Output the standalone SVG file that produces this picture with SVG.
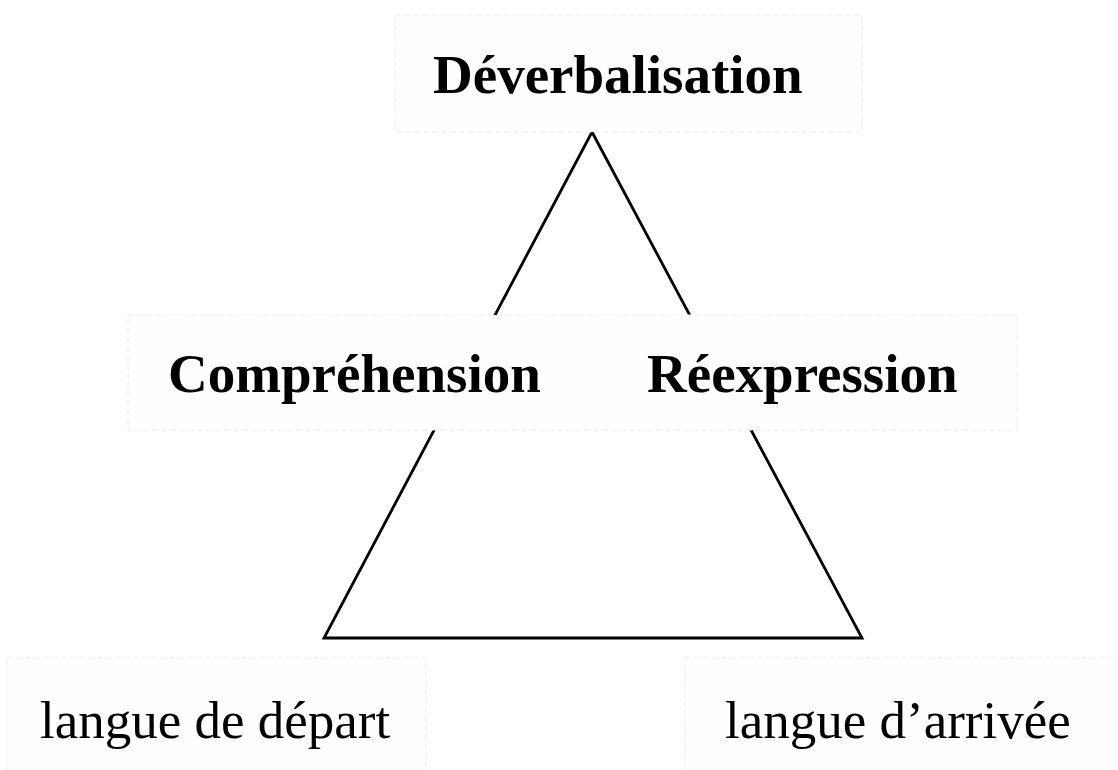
<svg xmlns="http://www.w3.org/2000/svg" width="1118" height="770" viewBox="0 0 1118 770">
<style>
.box{fill:#fefefe;stroke:#ececec;stroke-width:1;stroke-dasharray:6 3}
.bold{font-family:"Liberation Serif","Times New Roman",serif;font-weight:bold;font-size:55px;fill:#000}
.reg{font-family:"Liberation Serif","Times New Roman",serif;font-size:53px;fill:#000}
.edge{fill:none;stroke:#000;stroke-width:2.8;stroke-linejoin:miter}
</style>
<rect width="1118" height="770" fill="#ffffff"/>
<g id="connectors">
<polygon class="edge" points="592,132 862,638 324,638"/>
</g>
<g id="node-deverbalisation">
<rect class="box" x="395" y="15" width="467" height="117"/>
<text class="bold" x="433" y="93">Déverbalisation</text>
</g>
<g id="node-middle">
<rect class="box" x="128" y="315" width="889" height="115"/>
<text class="bold" x="168" y="392">Compréhension</text>
<text class="bold" x="647" y="392">Réexpression</text>
</g>
<g id="node-depart">
<rect class="box" x="7" y="658" width="419" height="120"/>
<text class="reg" x="40" y="738">langue de départ</text>
</g>
<g id="node-arrivee">
<rect class="box" x="685" y="658" width="440" height="120"/>
<text class="reg" x="725" y="738">langue d’arrivée</text>
</g>
</svg>
